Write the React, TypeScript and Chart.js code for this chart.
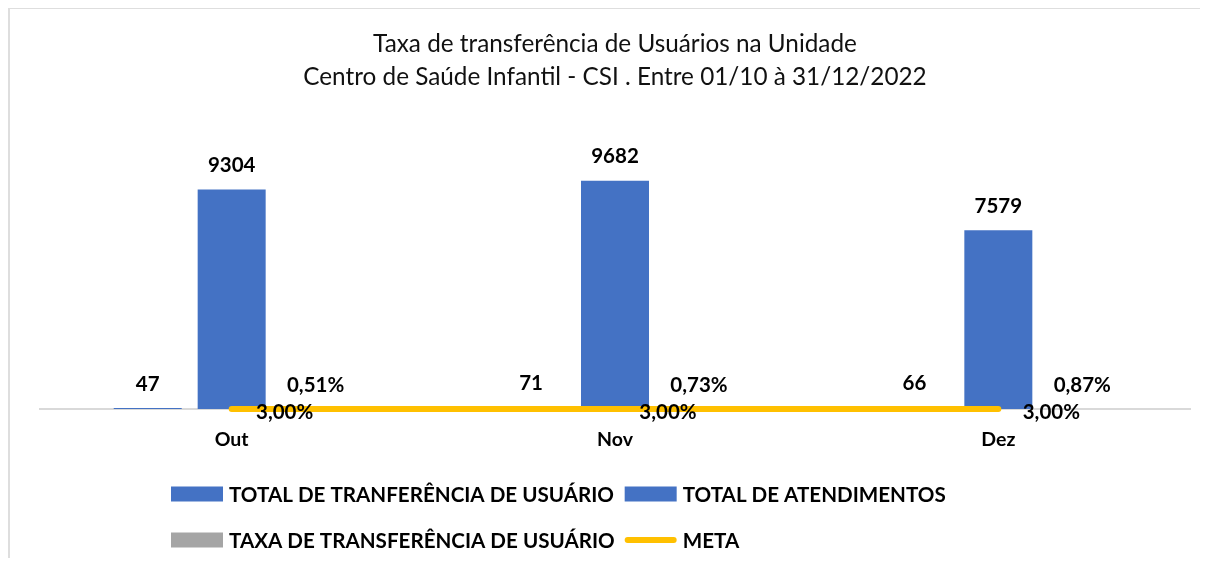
import React, { useEffect, useRef } from 'react';
import { Chart, registerables } from 'chart.js';

Chart.register(...registerables);

const categories = ['Out', 'Nov', 'Dez'];
const transferencias = [47, 71, 66];
const atendimentos = [9304, 9682, 7579];
const taxaTransferencia = [0.0051, 0.0073, 0.0087];
const metaValores = [0.03, 0.03, 0.03];
const titleLines = [
  'Taxa de transferência de Usuários na Unidade',
  'Centro de Saúde Infantil - CSI . Entre 01/10 à 31/12/2022',
];
const seriesNames = [
  'TOTAL DE TRANFERÊNCIA DE USUÁRIO',
  'TOTAL DE ATENDIMENTOS',
  'TAXA DE TRANSFERÊNCIA DE USUÁRIO',
  'META',
];

const FONT = 'Lato, "Noto Sans", sans-serif';

const fmtPct = (v: number) => (v * 100).toFixed(2).replace('.', ',') + '%';

const labelsPlugin = {
  id: 'valueLabels',
  afterDatasetsDraw(chart: any) {
    const ctx = chart.ctx;
    ctx.save();
    ctx.font = `bold 20.5px ${FONT}`;
    ctx.fillStyle = '#000000';
    ctx.textAlign = 'center';
    ctx.textBaseline = 'middle';
    chart.data.datasets.forEach((ds: any, i: number) => {
      const meta = chart.getDatasetMeta(i);
      meta.data.forEach((el: any, j: number) => {
        const v = ds.data[j];
        const text = ds.isPct ? fmtPct(v) : String(v);
        if (ds.type === 'line') {
          ctx.fillText(text, el.x + 53, el.y + 3);
        } else {
          ctx.fillText(text, el.x, el.y - 24);
        }
      });
    });
    ctx.restore();
  },
};

const legendPlugin = {
  id: 'customLegend',
  afterDraw(chart: any) {
    const ctx = chart.ctx;
    ctx.save();
    ctx.font = `bold 20.6px ${FONT}`;
    ctx.textBaseline = 'middle';
    ctx.textAlign = 'left';
    const ds = chart.data.datasets;
    const rows = [[0, 1], [2, 3]];
    const rowY = [494, 540];
    const boxW = 52;
    const boxH = 15;
    const gap = 6;
    const colGap = 10;
    const left = 171;
    const col1W = Math.max(
      ...rows.map((r) => boxW + gap + ctx.measureText(ds[r[0]].label).width)
    );
    rows.forEach((r, ri) => {
      r.forEach((di, ci) => {
        const d = ds[di];
        const x = ci === 0 ? left : left + col1W + colGap;
        const y = rowY[ri];
        if (d.type === 'line') {
          ctx.strokeStyle = d.borderColor;
          ctx.lineWidth = 6;
          ctx.lineCap = 'round';
          ctx.beginPath();
          ctx.moveTo(x + 3, y);
          ctx.lineTo(x + boxW - 3, y);
          ctx.stroke();
        } else {
          ctx.fillStyle = d.backgroundColor;
          ctx.fillRect(x, y - boxH / 2, boxW, boxH);
        }
        ctx.fillStyle = '#000000';
        ctx.fillText(d.label, x + boxW + gap, y + 1);
      });
    });
    ctx.restore();
  },
};

function ChartCanvas() {
  const ref = useRef<HTMLCanvasElement | null>(null);
  useEffect(() => {
    if (!ref.current) return;
    const chart = new Chart(ref.current, {
      type: 'bar',
      data: {
        labels: categories,
        datasets: [
          {
            type: 'bar',
            label: seriesNames[0],
            data: transferencias,
            backgroundColor: '#4472C4',
            order: 1,
          } as any,
          {
            type: 'bar',
            label: seriesNames[1],
            data: atendimentos,
            backgroundColor: '#4472C4',
            order: 1,
          },
          {
            type: 'bar',
            label: seriesNames[2],
            data: taxaTransferencia,
            backgroundColor: '#A5A5A5',
            order: 1,
            isPct: true,
          },
          {
            type: 'line',
            label: seriesNames[3],
            data: metaValores,
            borderColor: '#FFC000',
            backgroundColor: '#FFC000',
            borderWidth: 6,
            borderCapStyle: 'round',
            pointRadius: 0,
            clip: false,
            order: 0,
            isPct: true,
          },
        ],
      },
      options: {
        responsive: false,
        animation: false,
        layout: { padding: { left: 40, right: 18, top: 0, bottom: 95.2 } },
        datasets: {
          bar: { categoryPercentage: 0.657, barPercentage: 0.81 },
        },
        scales: {
          x: {
            grid: { display: false, drawTicks: false },
            border: { display: true, color: '#d9d9d9', width: 2 },
            ticks: {
              padding: 19.2,
              color: '#000000',
              font: { family: FONT, size: 19.5, weight: 'bold', lineHeight: 1.2 },
            },
          },
          y: {
            display: false,
            min: 0,
            max: 12000,
          },
        },
        plugins: {
          legend: { display: false },
          tooltip: { enabled: false },
          title: {
            display: true,
            text: titleLines,
            color: '#111111',
            font: { family: FONT, size: 24.3, weight: 'normal', lineHeight: 33 / 24.3 },
            padding: { top: 27.5, bottom: 32.5 },
          },
        },
      } as any,
      plugins: [labelsPlugin, legendPlugin],
    });
    return () => chart.destroy();
  }, []);
  return <canvas ref={ref} width={1208} height={566} style={{ position: 'absolute', left: 0, top: 0 }} />;
}

export default function App() {
  return (
    <div
      style={{
        position: 'relative',
        width: 1208,
        height: 566,
        margin: -8,
        overflow: 'hidden',
        background: '#ffffff',
      }}
    >
      <div
        style={{
          position: 'absolute',
          left: 8,
          top: 7,
          width: 1400,
          height: 800,
          borderTop: '2px solid #dedede',
          borderLeft: '2px solid #dedede',
        }}
      />
      <ChartCanvas />
    </div>
  );
}
